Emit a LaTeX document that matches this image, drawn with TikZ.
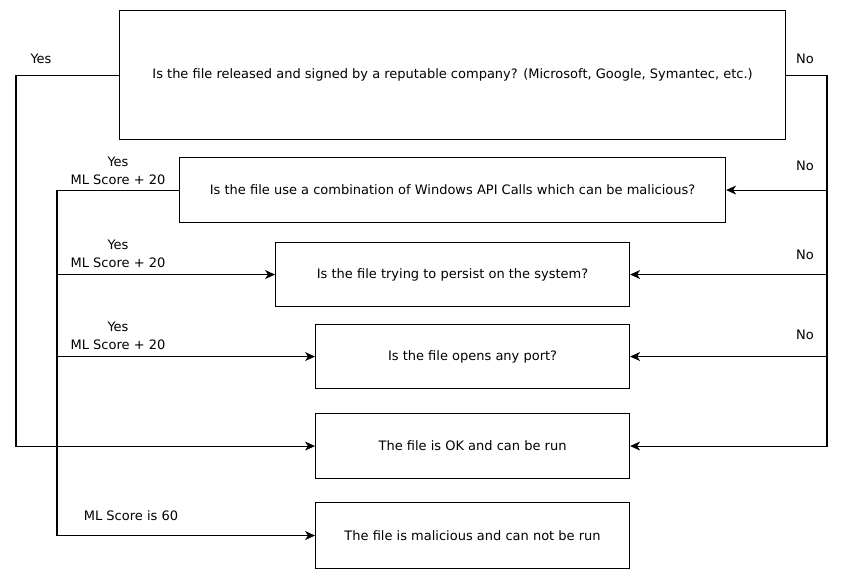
\documentclass[tikz,border=0pt]{standalone}
\usepackage{fontspec}
\setmainfont{DejaVu Sans}
\usetikzlibrary{arrows.meta}
\begin{document}
\begin{tikzpicture}[x=1pt,y=-1pt,
  box/.style={draw,line width=1.1pt,anchor=north west,inner sep=0pt},
  lbl/.style={font=\fontsize{13}{18}\selectfont,align=center,inner sep=0pt},
  line/.style={line width=1.1pt},
  arr/.style={line,-{Stealth[length=10pt,width=9pt,inset=3pt]}}]
\useasboundingbox (0,0) rectangle (853,586);
\node[box,minimum width=666pt,minimum height=129pt] (b1) at (119,10) {};
\node[lbl] at (b1.center) {Is the file released and signed by a reputable company? (Microsoft, Google, Symantec, etc.)};
\node[box,minimum width=546pt,minimum height=65pt] (b2) at (179,157) {};
\node[lbl] at (b2.center) {Is the file use a combination of Windows API Calls which can be malicious?};
\node[box,minimum width=354pt,minimum height=64pt] (b3) at (275,242) {};
\node[lbl] at (b3.center) {Is the file trying to persist on the system?};
\node[box,minimum width=314pt,minimum height=64pt] (b4) at (315,324) {};
\node[lbl] at (b4.center) {Is the file opens any port?};
\node[box,minimum width=314pt,minimum height=65pt] (b5) at (315,413) {};
\node[lbl] at (b5.center) {The file is OK and can be run};
\node[box,minimum width=314pt,minimum height=66pt] (b6) at (315,502) {};
\node[lbl] at (b6.center) {The file is malicious and can not be run};

\coordinate (L1) at (16,0);
\coordinate (L2) at (57,0);
\coordinate (R1) at (827,0);
% Yes from b1
\draw[arr] (b1.west) -- (L1 |- b1.west) |- (b5.west);
% No from b1
\draw[arr] (b1.east) -- (R1 |- b1.east) |- (b5.east);
\draw[arr] (R1 |- b2.east) -- (b2.east);
\draw[arr] (R1 |- b3.east) -- (b3.east);
\draw[arr] (R1 |- b4.east) -- (b4.east);
% Yes from b2
\draw[arr] (b2.west) -- (L2 |- b2.west) |- (b6.west);
\draw[arr] (L2 |- b3.west) -- (b3.west);
\draw[arr] (L2 |- b4.west) -- (b4.west);

\node[lbl] at (41,59) {Yes};
\node[lbl] at (805,59) {No};
\node[lbl] at (118,171) {Yes\\ML Score + 20};
\node[lbl] at (118,254) {Yes\\ML Score + 20};
\node[lbl] at (118,336) {Yes\\ML Score + 20};
\node[lbl] at (805,166) {No};
\node[lbl] at (805,255) {No};
\node[lbl] at (805,335) {No};
\node[lbl] at (131,516) {ML Score is 60};
\end{tikzpicture}
\end{document}
